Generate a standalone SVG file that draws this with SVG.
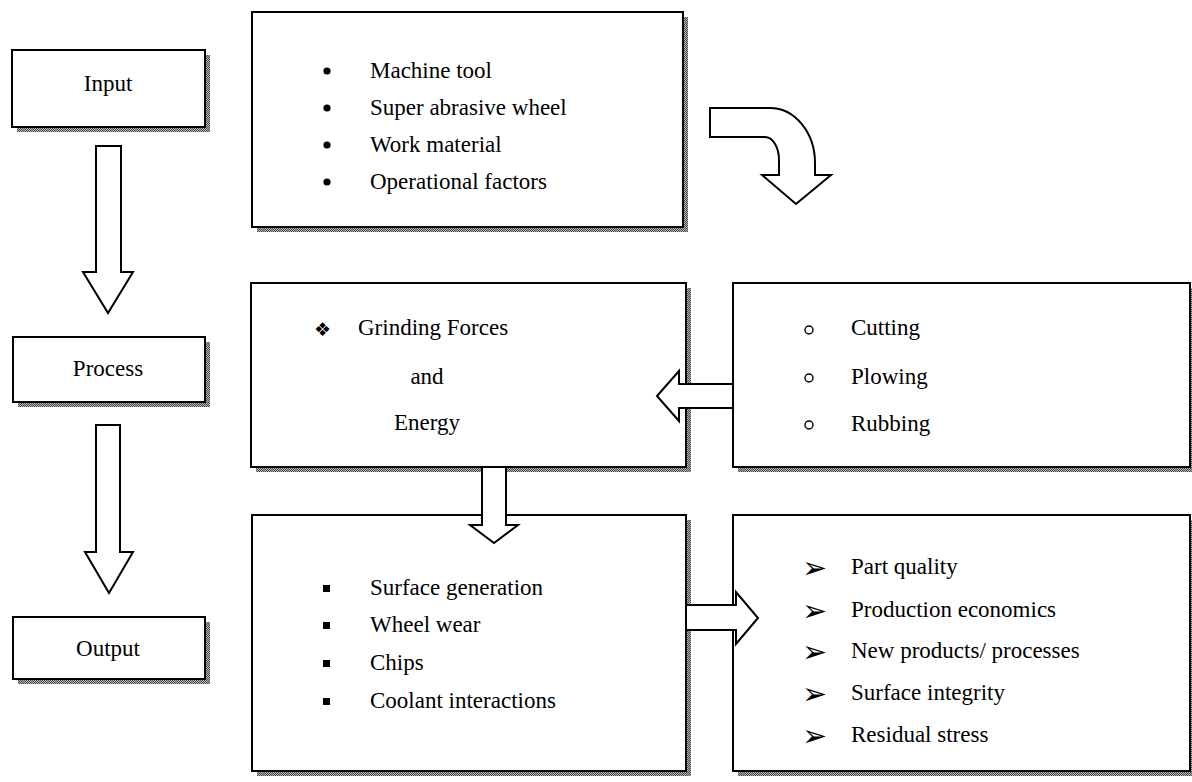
<svg xmlns="http://www.w3.org/2000/svg" width="1192" height="782" viewBox="0 0 1192 782">
  <defs>
    <!-- dithered grey used for the drop shadows -->
    <pattern id="dither" width="2" height="2" patternUnits="userSpaceOnUse">
      <rect width="2" height="2" fill="#b4b4b4"/>
      <rect width="1" height="1" fill="#4a4a4a"/>
      <rect x="1" y="1" width="1" height="1" fill="#4a4a4a"/>
    </pattern>
  </defs>
  <style>
    .shadow { fill: url(#dither); }
    .box { fill: #ffffff; stroke: #000000; stroke-width: 2; }
    .arrow { fill: #ffffff; stroke: #000000; stroke-width: 2; stroke-linejoin: miter; }
    .t { font-family: "Liberation Serif", "Times New Roman", serif; font-size: 23px; fill: #000000; }
    .c { text-anchor: middle; }
    .sym { font-family: "DejaVu Sans", sans-serif; fill: #000000; }
    .dot { fill: #000000; }
    .ring { fill: none; stroke: #000000; stroke-width: 1.4; }
  </style>

  <rect width="1192" height="782" fill="#ffffff"/>

  <!-- stage column -->
  <g id="input">
    <rect class="shadow" x="17" y="55" width="193" height="77"/>
    <rect class="box" x="12" y="50" width="193" height="77"/>
    <text class="t c" x="108" y="91">Input</text>
  </g>
  <g id="process">
    <rect class="shadow" x="18" y="342" width="192" height="65"/>
    <rect class="box" x="13" y="337" width="192" height="65"/>
    <text class="t c" x="108" y="376">Process</text>
  </g>
  <g id="output">
    <rect class="shadow" x="18" y="622" width="192" height="62"/>
    <rect class="box" x="13" y="617" width="192" height="62"/>
    <text class="t c" x="108" y="656">Output</text>
  </g>

  <!-- input factors -->
  <g id="inputs">
    <rect class="shadow" x="257" y="17" width="431" height="215"/>
    <rect class="box" x="252" y="12" width="431" height="215"/>
    <circle class="dot" cx="327" cy="71" r="3.6"/><text class="t" x="370" y="78">Machine tool</text>
    <circle class="dot" cx="327" cy="108" r="3.6"/><text class="t" x="370" y="115">Super abrasive wheel</text>
    <circle class="dot" cx="327" cy="145" r="3.6"/><text class="t" x="370" y="152">Work material</text>
    <circle class="dot" cx="327" cy="182" r="3.6"/><text class="t" x="370" y="189">Operational factors</text>
  </g>

  <!-- forces and energy -->
  <g id="forces">
    <rect class="shadow" x="256" y="288" width="435" height="184"/>
    <rect class="box" x="251" y="283" width="435" height="184"/>
    <text class="sym" x="314" y="336" font-size="19">❖</text>
    <text class="t" x="358" y="335">Grinding Forces</text>
    <text class="t c" x="427" y="384">and</text>
    <text class="t c" x="427" y="430">Energy</text>
  </g>

  <!-- grain interactions -->
  <g id="mechanisms">
    <rect class="shadow" x="738" y="288" width="460" height="184"/>
    <rect class="box" x="733" y="283" width="457" height="184"/>
    <circle class="ring" cx="809" cy="330" r="4"/><text class="t" x="851" y="335">Cutting</text>
    <circle class="ring" cx="809" cy="378" r="4"/><text class="t" x="851" y="384">Plowing</text>
    <circle class="ring" cx="809" cy="425" r="4"/><text class="t" x="851" y="431">Rubbing</text>
  </g>

  <!-- process results -->
  <g id="results">
    <rect class="shadow" x="257" y="520" width="434" height="256"/>
    <rect class="box" x="252" y="515" width="434" height="256"/>
    <rect class="dot" x="323" y="585" width="7" height="7"/><text class="t" x="370" y="595">Surface generation</text>
    <rect class="dot" x="323" y="622" width="7" height="7"/><text class="t" x="370" y="632">Wheel wear</text>
    <rect class="dot" x="323" y="660" width="7" height="7"/><text class="t" x="370" y="670">Chips</text>
    <rect class="dot" x="323" y="698" width="7" height="7"/><text class="t" x="370" y="708">Coolant interactions</text>
  </g>

  <!-- outcomes -->
  <g id="outcomes">
    <rect class="shadow" x="738" y="520" width="460" height="256"/>
    <rect class="box" x="733" y="515" width="457" height="256"/>
    <text class="sym" x="802" y="578" font-size="30">➢</text><text class="t" x="851" y="574">Part quality</text>
    <text class="sym" x="802" y="621" font-size="30">➢</text><text class="t" x="851" y="617">Production economics</text>
    <text class="sym" x="802" y="662" font-size="30">➢</text><text class="t" x="851" y="658">New products/ processes</text>
    <text class="sym" x="802" y="704" font-size="30">➢</text><text class="t" x="851" y="700">Surface integrity</text>
    <text class="sym" x="802" y="746" font-size="30">➢</text><text class="t" x="851" y="742">Residual stress</text>
  </g>

  <!-- block arrows -->
  <g id="connectors">
    <polygon class="arrow" points="96,146 121,146 121,272 133,272 108,313 83,272 96,272"/>
    <polygon class="arrow" points="96,425 120,425 120,552 133,552 109,593 85,552 96,552"/>
    <path class="arrow" d="M710,108 L770,108 A45,55 0 0 1 815,163 L815,175 L831,175 L796,204 L762,175 L779,175 L779,160 A14,23 0 0 0 765,137 L710,137 Z"/>
    <polygon class="arrow" points="733,384 679,384 679,371 657,396 679,421 679,408 733,408"/>
    <polygon class="arrow" points="482,467 506,467 506,525 518,525 494,543 470,525 482,525"/>
    <polygon class="arrow" points="686,605 736,605 736,592 758,618 736,644 736,630 686,630"/>
  </g>
</svg>
